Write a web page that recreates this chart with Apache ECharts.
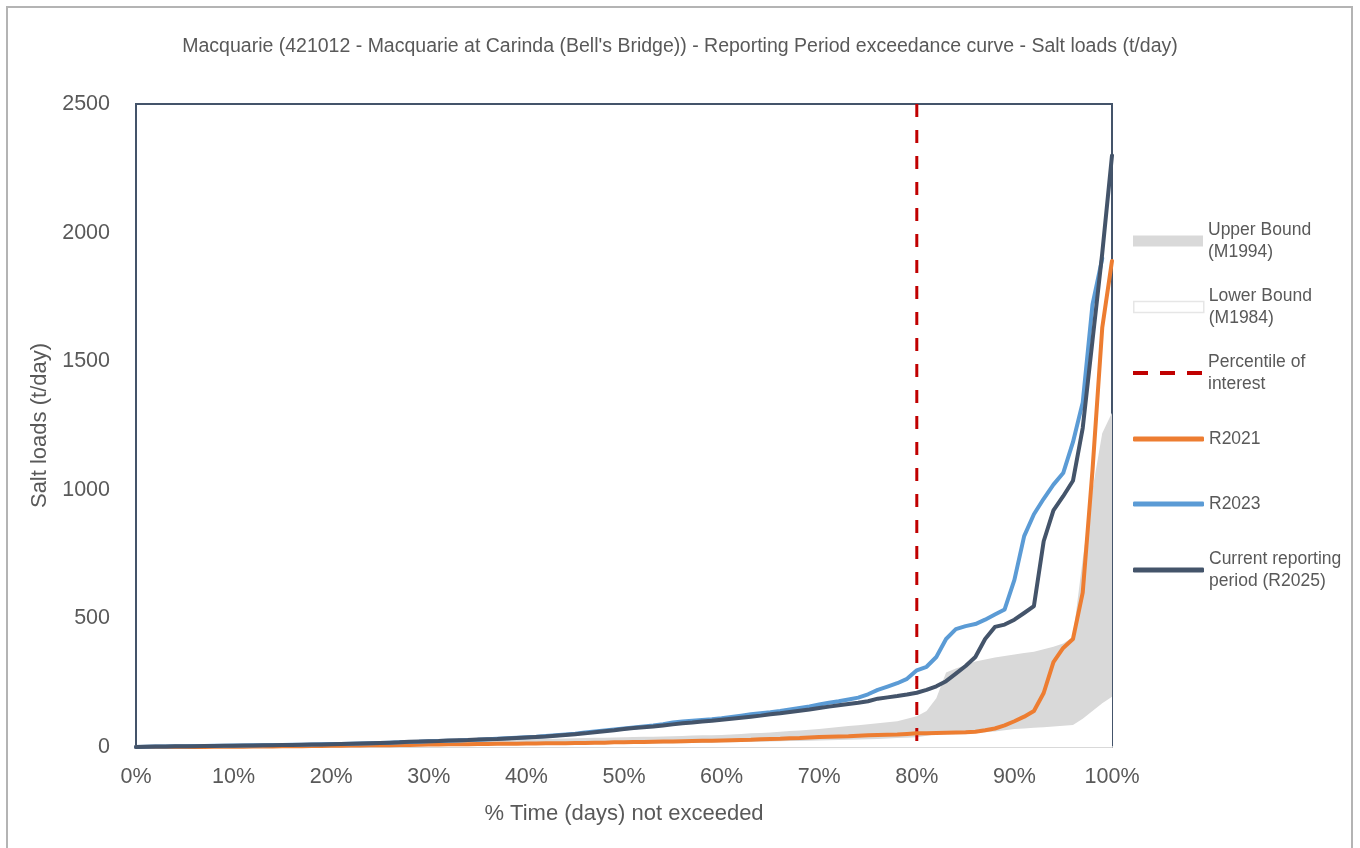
<!DOCTYPE html>
<html>
<head>
<meta charset="utf-8">
<title>Macquarie salt load exceedance curve</title>
<script src="https://cdn.jsdelivr.net/npm/echarts@6/dist/echarts.min.js"></script>
<style>
  html, body { margin: 0; padding: 0; background: #ffffff; }
  #chart { width: 1360px; height: 848px; }
</style>
</head>
<body>
<div id="chart"></div>
<script>
// % of time (days) not exceeded, 0..100 in 1% steps
const percentiles = Array.from({ length: 101 }, (_, i) => i);

// Salt loads (t/day) at each percentile
const upperBoundM1994 = [
  0, 1, 1, 2, 2, 3, 3, 4, 5, 5, 6, 7, 8, 8, 9, 10, 11, 12, 12, 13,
  14, 15, 16, 16, 17, 18, 19, 20, 20, 21, 22, 23, 24, 24, 25, 26, 27, 28, 28, 29,
  30, 31, 32, 32, 33, 34, 35, 36, 36, 37, 38, 39, 40, 40, 41, 42, 43, 45, 46, 46,
  47, 49, 51, 53, 54, 56, 59, 62, 64, 67, 70, 74, 78, 82, 85, 88, 92, 96, 100, 110,
  120, 140, 190, 290, 305, 318, 332, 340, 348, 354, 360, 365, 370, 380, 390, 402, 428, 730, 1000, 1220,
  1300
];
const lowerBoundM1984 = [
  0, 0, 0, 0, 0, 0, 0, 0, 0, 0, 0, 0, 0, 1, 1, 1, 1, 1, 2, 2,
  2, 2, 3, 3, 3, 3, 4, 4, 4, 5, 5, 5, 6, 6, 6, 7, 7, 7, 8, 8,
  8, 9, 9, 9, 10, 10, 10, 11, 11, 12, 12, 13, 13, 14, 14, 15, 15, 16, 16, 17,
  18, 18, 19, 20, 20, 21, 22, 23, 23, 24, 25, 26, 27, 28, 29, 30, 31, 33, 35, 36,
  38, 44, 50, 50, 50, 50, 54, 57, 60, 65, 70, 72, 75, 77, 80, 83, 86, 110, 140, 170,
  195
];
const r2021 = [
  0, 0, 0, 0, 0, 0, 0, 0, 1, 1, 1, 1, 2, 2, 2, 3, 3, 3, 4, 4,
  5, 5, 6, 6, 7, 7, 7, 8, 8, 9, 10, 10, 11, 11, 11, 12, 12, 13, 13, 13,
  14, 14, 15, 15, 15, 16, 16, 17, 17, 18, 18, 19, 19, 20, 21, 21, 22, 23, 24, 24,
  25, 26, 27, 28, 30, 31, 32, 34, 35, 37, 39, 40, 41, 42, 44, 46, 47, 48, 49, 51,
  53, 53, 54, 55, 56, 57, 59, 65, 72, 84, 100, 118, 140, 210, 330, 385, 420, 600, 1075, 1630,
  1890
];
const r2023 = [
  0, 1, 2, 2, 3, 3, 4, 4, 5, 5, 6, 6, 7, 7, 8, 8, 9, 9, 10, 11,
  12, 12, 13, 14, 15, 16, 17, 18, 19, 20, 22, 23, 24, 25, 27, 28, 30, 32, 34, 36,
  38, 40, 43, 46, 49, 52, 56, 60, 64, 68, 72, 76, 80, 84, 89, 95, 99, 102, 105, 108,
  112, 117, 122, 127, 131, 135, 140, 146, 152, 158, 165, 172, 178, 185, 192, 205, 222, 235, 248, 265,
  298, 312, 350, 420, 458, 470, 478, 495, 515, 535, 650, 820, 905, 965, 1020, 1065, 1185, 1340, 1720, 1900,
  null
];
const r2025 = [
  0, 1, 2, 2, 3, 3, 3, 4, 4, 5, 5, 6, 6, 7, 7, 8, 8, 9, 10, 10,
  11, 12, 13, 14, 15, 16, 17, 18, 20, 21, 22, 23, 25, 26, 27, 29, 30, 31, 33, 35,
  37, 39, 41, 44, 47, 50, 53, 57, 61, 65, 70, 74, 77, 80, 84, 88, 92, 95, 99, 102,
  106, 110, 114, 118, 122, 127, 131, 136, 141, 146, 152, 157, 162, 167, 172, 178, 188, 193, 198, 204,
  211, 222, 236, 256, 285, 315, 350, 420, 467, 476, 495, 521, 548, 800, 920, 975, 1035, 1240, 1580, 1920,
  2300
];

// Percentile of interest (vertical reference at 80%), drawn top-down
const percentileOfInterest = 80;
const percentileSpan = [2500, 0];

// Axis ticks
const xTicks = { min: 0, max: 100, step: 10 };
const yTicks = { min: 0, max: 2500, step: 500 };

const pair = (vals) => percentiles.map((p, i) => [p, vals[i]]);

const FONT = '"Liberation Sans", Arial, sans-serif';
const TEXT = '#595959';

const chart = echarts.init(document.getElementById('chart'), null, { renderer: 'canvas' });

const legendText = { color: TEXT, fontFamily: FONT, fontSize: 17.5, lineHeight: 22 };
const legendTextTwoLine = Object.assign({}, legendText, { padding: [22, 0, 0, 0] });
const legendBase = {
  orient: 'vertical',
  left: 1133,
  padding: 0,
  itemWidth: 71,
  itemHeight: 5,
  selectedMode: false,
  textStyle: legendText
};
// three short dashes for the reference-line key
const dashIcon = 'path://M0,0h15v4H0z M27,0h15v4H27z M54,0h15v4H54z';

chart.setOption({
  animation: false,
  backgroundColor: '#ffffff',
  title: {
    text: "Macquarie (421012 - Macquarie at Carinda (Bell's Bridge)) - Reporting Period exceedance curve - Salt loads (t/day)",
    left: 'center',
    top: 32,
    textStyle: { color: TEXT, fontFamily: FONT, fontSize: 19.5, fontWeight: 'normal' }
  },
  graphic: [{
    type: 'rect',
    silent: true,
    z: -10,
    shape: { x: 7, y: 7, width: 1345, height: 860 },
    style: { fill: 'none', stroke: '#b4b4b4', lineWidth: 2 }
  }],
  legend: [
    Object.assign({}, legendBase, {
      top: 208, itemWidth: 70, itemHeight: 11, textStyle: legendTextTwoLine,
      data: [{ name: 'Upper Bound\n(M1994)', icon: 'rect' }]
    }),
    Object.assign({}, legendBase, {
      top: 274, itemWidth: 70, itemHeight: 11, textStyle: legendTextTwoLine,
      data: [{ name: 'Lower Bound\n(M1984)', icon: 'rect',
               itemStyle: { color: '#ffffff', borderColor: '#e6e6e6', borderWidth: 1.5 } }]
    }),
    Object.assign({}, legendBase, {
      top: 340, itemWidth: 71, itemHeight: 4, textStyle: legendTextTwoLine,
      data: [{ name: 'Percentile of\ninterest', icon: dashIcon }]
    }),
    Object.assign({}, legendBase, { top: 428, data: [{ name: 'R2021', icon: 'roundRect' }] }),
    Object.assign({}, legendBase, { top: 493, data: [{ name: 'R2023', icon: 'roundRect' }] }),
    Object.assign({}, legendBase, {
      top: 537, textStyle: legendTextTwoLine,
      data: [{ name: 'Current reporting\nperiod (R2025)', icon: 'roundRect' }]
    })
  ],
  grid: {
    left: 136, top: 104, right: 248, bottom: 101,
    show: true,
    borderColor: '#44546a',
    borderWidth: 2,
    backgroundColor: 'transparent'
  },
  xAxis: {
    type: 'value',
    min: xTicks.min, max: xTicks.max, interval: xTicks.step,
    name: '% Time (days) not exceeded',
    nameLocation: 'middle',
    nameGap: 56,
    nameTextStyle: { color: TEXT, fontFamily: FONT, fontSize: 22 },
    axisLine: { show: true, lineStyle: { color: '#d9d9d9', width: 2 } },
    axisTick: { show: false },
    splitLine: { show: false },
    axisLabel: { color: TEXT, fontFamily: FONT, fontSize: 21.5, margin: 19, formatter: '{value}%' }
  },
  yAxis: {
    type: 'value',
    min: yTicks.min, max: yTicks.max, interval: yTicks.step,
    name: 'Salt loads (t/day)',
    nameLocation: 'middle',
    nameGap: 85,
    nameTextStyle: { color: TEXT, fontFamily: FONT, fontSize: 22 },
    axisLine: { show: false },
    axisTick: { show: false },
    splitLine: { show: false },
    axisLabel: { color: TEXT, fontFamily: FONT, fontSize: 21.5, margin: 26, formatter: (v) => String(v) }
  },
  series: [
    {
      name: 'Upper Bound\n(M1994)',
      type: 'line',
      data: pair(upperBoundM1994),
      symbol: 'none',
      lineStyle: { width: 0, color: '#d9d9d9' },
      itemStyle: { color: '#d9d9d9' },
      areaStyle: { color: '#d9d9d9', opacity: 1 },
      z: 1
    },
    {
      name: 'Lower Bound\n(M1984)',
      type: 'line',
      data: pair(lowerBoundM1984),
      symbol: 'none',
      lineStyle: { width: 0, color: '#ffffff' },
      itemStyle: { color: '#ffffff' },
      areaStyle: { color: '#ffffff', opacity: 1 },
      z: 1
    },
    {
      name: 'Percentile of\ninterest',
      type: 'line',
      data: percentileSpan.map(v => [percentileOfInterest, v]),
      symbol: 'none',
      lineStyle: { color: '#c00000', width: 3, type: [13, 13] },
      itemStyle: { color: '#c00000' },
      z: 3
    },
    {
      name: 'R2021',
      type: 'line',
      data: pair(r2021),
      symbol: 'none',
      lineStyle: { color: '#ed7d31', width: 4, cap: 'round', join: 'round' },
      itemStyle: { color: '#ed7d31' },
      z: 4
    },
    {
      name: 'R2023',
      type: 'line',
      data: pair(r2023),
      symbol: 'none',
      lineStyle: { color: '#5b9bd5', width: 4, cap: 'round', join: 'round' },
      itemStyle: { color: '#5b9bd5' },
      z: 5
    },
    {
      name: 'Current reporting\nperiod (R2025)',
      type: 'line',
      data: pair(r2025),
      symbol: 'none',
      lineStyle: { color: '#44546a', width: 4, cap: 'round', join: 'round' },
      itemStyle: { color: '#44546a' },
      z: 6
    }
  ]
});
</script>
</body>
</html>
